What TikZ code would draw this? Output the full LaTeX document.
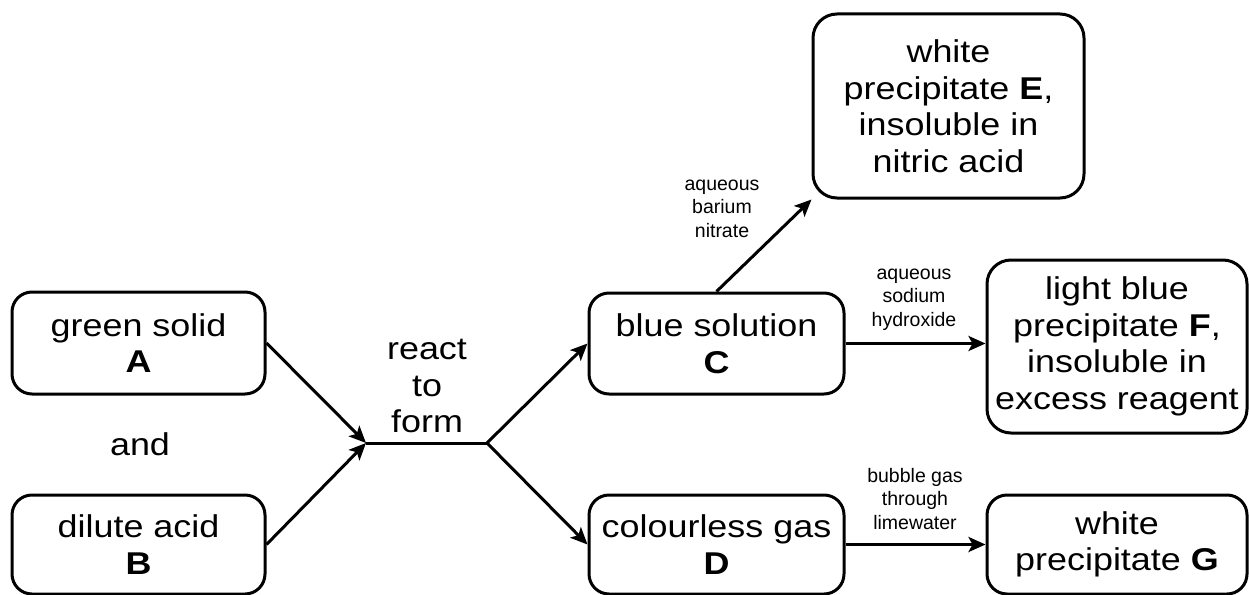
\documentclass[tikz,border=0pt]{standalone}
\usepackage{fontspec}
\setmainfont{Liberation Sans}
\newfontfamily\wideface[FakeStretch=1.14]{Liberation Sans}
\usetikzlibrary{arrows.meta}
\newcommand\bigtxt{\wideface\fontsize{31.5}{36.5}\selectfont}
\newcommand\smalltxt{\fontsize{19.5}{23.5}\selectfont}
\tikzset{
  box/.style={draw, line width=3pt, rounded corners=20pt, align=center, inner sep=0pt, font=\bigtxt},
  bigbox/.style={box, rounded corners=24pt},
  lab/.style={align=center, inner sep=0pt, font=\smalltxt},
  biglab/.style={align=center, inner sep=0pt, font=\bigtxt},
  arr/.style={line width=3pt, -{Stealth[length=17pt,width=15pt,inset=4pt]}},
  plain/.style={line width=3pt},
}
\begin{document}
\begin{tikzpicture}[x=1pt,y=-1pt]
\useasboundingbox (0,0) rectangle (1249,594);
% boxes
\node[box, minimum width=253pt, minimum height=102pt] (A) at (138.5,343) {green solid\\\textbf{A}};
\node[box, minimum width=253pt, minimum height=99pt] (B) at (138.5,544.5) {dilute acid\\\textbf{B}};
\node[box, minimum width=255pt, minimum height=101pt] (C) at (716.5,343.5) {blue solution\\\textbf{C}};
\node[box, minimum width=255pt, minimum height=99pt] (D) at (716.5,544.5) {colourless gas\\\textbf{D}};
\node[bigbox, minimum width=271pt, minimum height=184pt] (E) at (948.5,106) {white\\precipitate \textbf{E},\\insoluble in\\nitric acid};
\node[bigbox, minimum width=260pt, minimum height=173pt] (F) at (1117,346.5) {light blue\\precipitate \textbf{F},\\insoluble in\\excess reagent};
\node[box, minimum width=260pt, minimum height=99pt] (G) at (1117,544.5) {white\\precipitate \textbf{G}};
% free texts
\node[biglab] (and) at (140,444) {and};
\node[biglab] (react) at (427,386) {react\\to\\form};
\node[lab] (l1) at (722,208.5) {aqueous\\barium\\nitrate};
\node[lab] (l2) at (914,299.5) {aqueous\\sodium\\hydroxide};
\node[lab] (l3) at (915,499) {bubble gas\\through\\limewater};
% junction
\coordinate (J) at (366,443);
\coordinate (K) at (487,443);
\draw[arr] (A.east) -- (J);
\draw[arr] (B.east) -- (J);
\draw[plain] (J) -- (K);
\draw[arr] (K) -- (C.west);
\draw[arr] (K) -- (D.west);
\draw[arr] (C.north) -- (E.south west);
\draw[arr] (C.east) -- (C.east -| F.west);
\draw[arr] (D.east) -- (G.west);
\end{tikzpicture}
\end{document}
